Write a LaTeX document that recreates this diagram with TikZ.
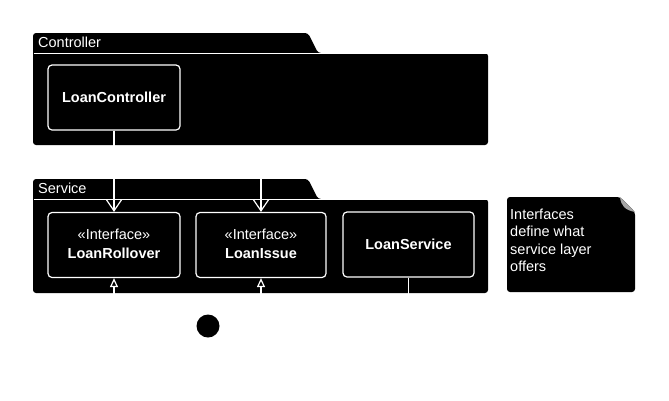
\documentclass[tikz,border=0pt]{standalone}
\usepackage{fontspec}
\setmainfont{Liberation Sans}
\usetikzlibrary{arrows.meta}
\tikzset{
  pkgshape/.style={fill=black, rounded corners=3pt},
  pkgline/.style={draw=white, line width=1pt},
  pkgtitle/.style={anchor=west, text=white, inner sep=0pt, font=\fontsize{14.5}{17}\selectfont},
  cls/.style={draw=white, fill=black, rounded corners=4pt, line width=1.2pt, text=white,
    font=\fontsize{14.5}{18.5}\selectfont, align=center, inner sep=0pt},
  dep/.style={draw=white, line width=1.2pt, -{Straight Barb[length=11pt,width=15pt,line width=1.2pt]}},
  real/.style={draw=white, line width=1.2pt, -{Triangle[length=9pt,width=8pt,line width=1.2pt,fill=black]}},
  notetext/.style={anchor=north west, align=left, text=white, inner sep=0pt, font=\fontsize{14.5}{17.2}\selectfont},
}
\begin{document}
\begin{tikzpicture}[x=1pt,y=-1pt]
\path[use as bounding box] (0,0) rectangle (669,400);
% Controller package
\fill[pkgshape] (33,145) -- (33,33) -- (308,33) -- (318,53) -- (488,53) -- (488,145) -- cycle;
\draw[pkgline] (33.5,53.5) -- (487.5,53.5);
\node[pkgtitle] (ctrltitle) at (38,42) {Controller};
% Service package
\fill[pkgshape] (33,293) -- (33,179) -- (308,179) -- (318,199) -- (488,199) -- (488,293) -- cycle;
\draw[pkgline] (33.5,199.5) -- (487.5,199.5);
\node[pkgtitle] (srvtitle) at (38,188) {Service};
% classes
\node[cls, minimum width=132pt, minimum height=65pt] (lc) at (114,97.5) {\textbf{LoanController}};
\node[cls, minimum width=132pt, minimum height=65pt] (lr) at (114,245) {\raisebox{0pt}{«Interface»}\\\textbf{LoanRollover}\rule[-3pt]{0pt}{0pt}};
\node[cls, minimum width=130pt, minimum height=65pt] (li) at (261,245) {«Interface»\\\textbf{LoanIssue}\rule[-3pt]{0pt}{0pt}};
\node[cls, minimum width=131pt, minimum height=65pt] (ls) at (408.5,244.5) {\textbf{LoanService}};
% edges
\draw[dep] (lc.south) -- (lr.north);
\draw[dep] (lc.south) -- ++(0,30) -| (li.north);
\draw[real] (ls.south) -- ++(0,28) -| (li.south);
\draw[real] (ls.south) -- ++(0,28) -| (lr.south);
% note
\fill[black, rounded corners=3pt] (507,292) -- (507,197) -- (620,197) -- (635,212) -- (635,292) -- cycle;
\fill[gray!70] (620,197) .. controls (621,206) and (625,210) .. (635,212) -- cycle;
\node[notetext] (note) at (510,209) {Interfaces\\define what\\service layer\\offers};
% initial node
\fill[black] (208,326) circle (11.5pt);
\end{tikzpicture}
\end{document}
